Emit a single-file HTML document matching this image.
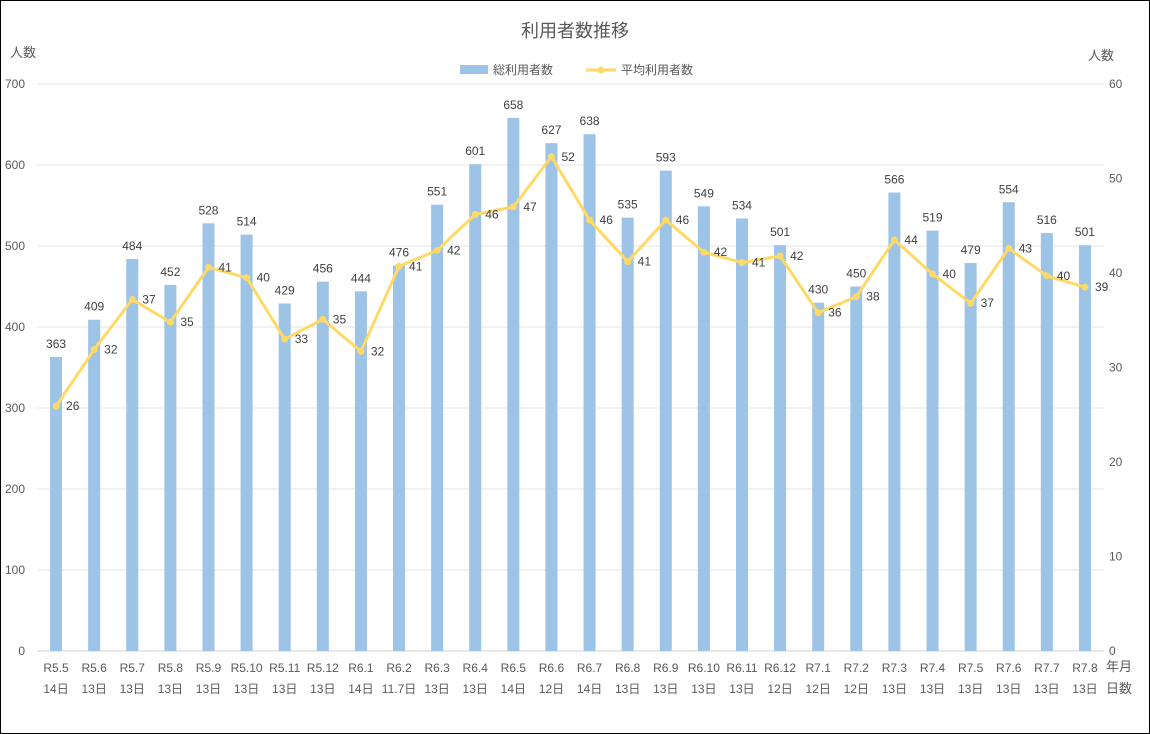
<!DOCTYPE html>
<html><head><meta charset="utf-8">
<style>
html,body{margin:0;padding:0;background:#fff}
#wrap{position:relative;width:1150px;height:734px;box-sizing:border-box;border:1px solid #000;overflow:hidden}
svg text{font-family:"Liberation Sans","Noto Sans CJK JP",sans-serif}
</style></head>
<body>
<div id="wrap">
<svg id="chart" width="1150" height="734"></svg>
</div>
<script>
const categories=["R5.5","R5.6","R5.7","R5.8","R5.9","R5.10","R5.11","R5.12","R6.1","R6.2","R6.3","R6.4","R6.5","R6.6","R6.7","R6.8","R6.9","R6.10","R6.11","R6.12","R7.1","R7.2","R7.3","R7.4","R7.5","R7.6","R7.7","R7.8"];
const days=["14日","13日","13日","13日","13日","13日","13日","13日","14日","11.7日","13日","13日","14日","12日","14日","13日","13日","13日","13日","12日","12日","12日","13日","13日","13日","13日","13日","13日"];
const totalUsers=[363,409,484,452,528,514,429,456,444,476,551,601,658,627,638,535,593,549,534,501,430,450,566,519,479,554,516,501];
const avgUsers=[25.9,31.9,37.2,34.8,40.6,39.5,33.0,35.1,31.7,40.7,42.4,46.2,47.0,52.3,45.6,41.2,45.6,42.2,41.1,41.8,35.8,37.5,43.5,39.9,36.8,42.6,39.7,38.5];
const leftTicks=[0,100,200,300,400,500,600,700];
const rightTicks=[0,10,20,30,40,50,60];

const NS="http://www.w3.org/2000/svg";
const svg=document.getElementById('chart');
const X0=36,X1=1103,Y0=650,Y1=83;
const bw=(X1-X0)/categories.length;
const xc=i=>X0+bw*(i+0.5);
const yL=v=>Y0-(v/700)*(Y0-Y1);
const yR=v=>Y0-(v/60)*(Y0-Y1);
function el(tag,attrs,txt){const e=document.createElementNS(NS,tag);for(const k in attrs)e.setAttribute(k,attrs[k]);if(txt!==undefined)e.textContent=txt;svg.appendChild(e);return e;}

leftTicks.forEach(v=>{
 const g=el('line',{x1:X0,x2:X1,y1:yL(v),y2:yL(v),stroke:v===0?'#d0d0d0':'#e4e4e4','stroke-width':1});
 
 
 const t=el('text',{x:24,y:yL(v)+4,'font-size':12,fill:'#595959','text-anchor':'end'},v);
 
 
});
rightTicks.forEach(v=>{
 const t=el('text',{x:1108,y:yR(v)+4,'font-size':12,fill:'#595959','text-anchor':'start'},v);
 
 
});
totalUsers.forEach((v,i)=>{
 const r=el('rect',{x:xc(i)-6,y:yL(v),width:12,height:Y0-yL(v),fill:'#9dc3e6'});
 
 
 const t=el('text',{x:xc(i),y:yL(v)-9,'font-size':12,fill:'#404040','text-anchor':'middle'},v);
 
 
 const c=el('text',{x:xc(i),y:671,'font-size':12,fill:'#595959','text-anchor':'middle'},categories[i]);
 
 
 const d=el('text',{x:xc(i),y:692,'font-size':12,fill:'#595959','text-anchor':'middle'},days[i]);
 
 
});
const pts=avgUsers.map((v,i)=>xc(i)+','+yR(v)).join(' ');
const pl=el('polyline',{points:pts,fill:'none',stroke:'#ffd966','stroke-width':3,'stroke-linejoin':'round'});


avgUsers.forEach((v,i)=>{
 const c=el('circle',{cx:xc(i),cy:yR(v),r:3.5,fill:'#ffd966'});
 
 
 const t=el('text',{x:xc(i)+10,y:yR(v)+4,'font-size':12,fill:'#404040','text-anchor':'start'},Math.round(v));
 
 
});
</script>
<svg width="1150" height="734" style="position:absolute;left:0;top:0;pointer-events:none">
<text x="575" y="37" font-size="18" fill="#595959" text-anchor="middle" style="font-family:'Liberation Sans','Noto Sans CJK JP',sans-serif">利用者数推移</text>
<text x="10" y="57" font-size="13" fill="#595959" style="font-family:'Liberation Sans','Noto Sans CJK JP',sans-serif">人数</text>
<text x="1088" y="60" font-size="13" fill="#595959" style="font-family:'Liberation Sans','Noto Sans CJK JP',sans-serif">人数</text>
<g style="font-family:'Liberation Sans','Noto Sans CJK JP',sans-serif">
<rect x="460" y="65" width="28" height="9" fill="#9dc3e6"/>
<text x="493" y="74" font-size="12" fill="#595959">総利用者数</text>
<line x1="586" y1="70" x2="616" y2="70" stroke="#ffd966" stroke-width="3"/>
<circle cx="601" cy="70" r="3.5" fill="#ffd966"/>
<text x="621" y="74" font-size="12" fill="#595959">平均利用者数</text>
</g>
<text x="1106" y="671" font-size="13" fill="#595959" style="font-family:'Liberation Sans','Noto Sans CJK JP',sans-serif">年月</text>
<text x="1106" y="693" font-size="13" fill="#595959" style="font-family:'Liberation Sans','Noto Sans CJK JP',sans-serif">日数</text>
</svg>
</body></html>
